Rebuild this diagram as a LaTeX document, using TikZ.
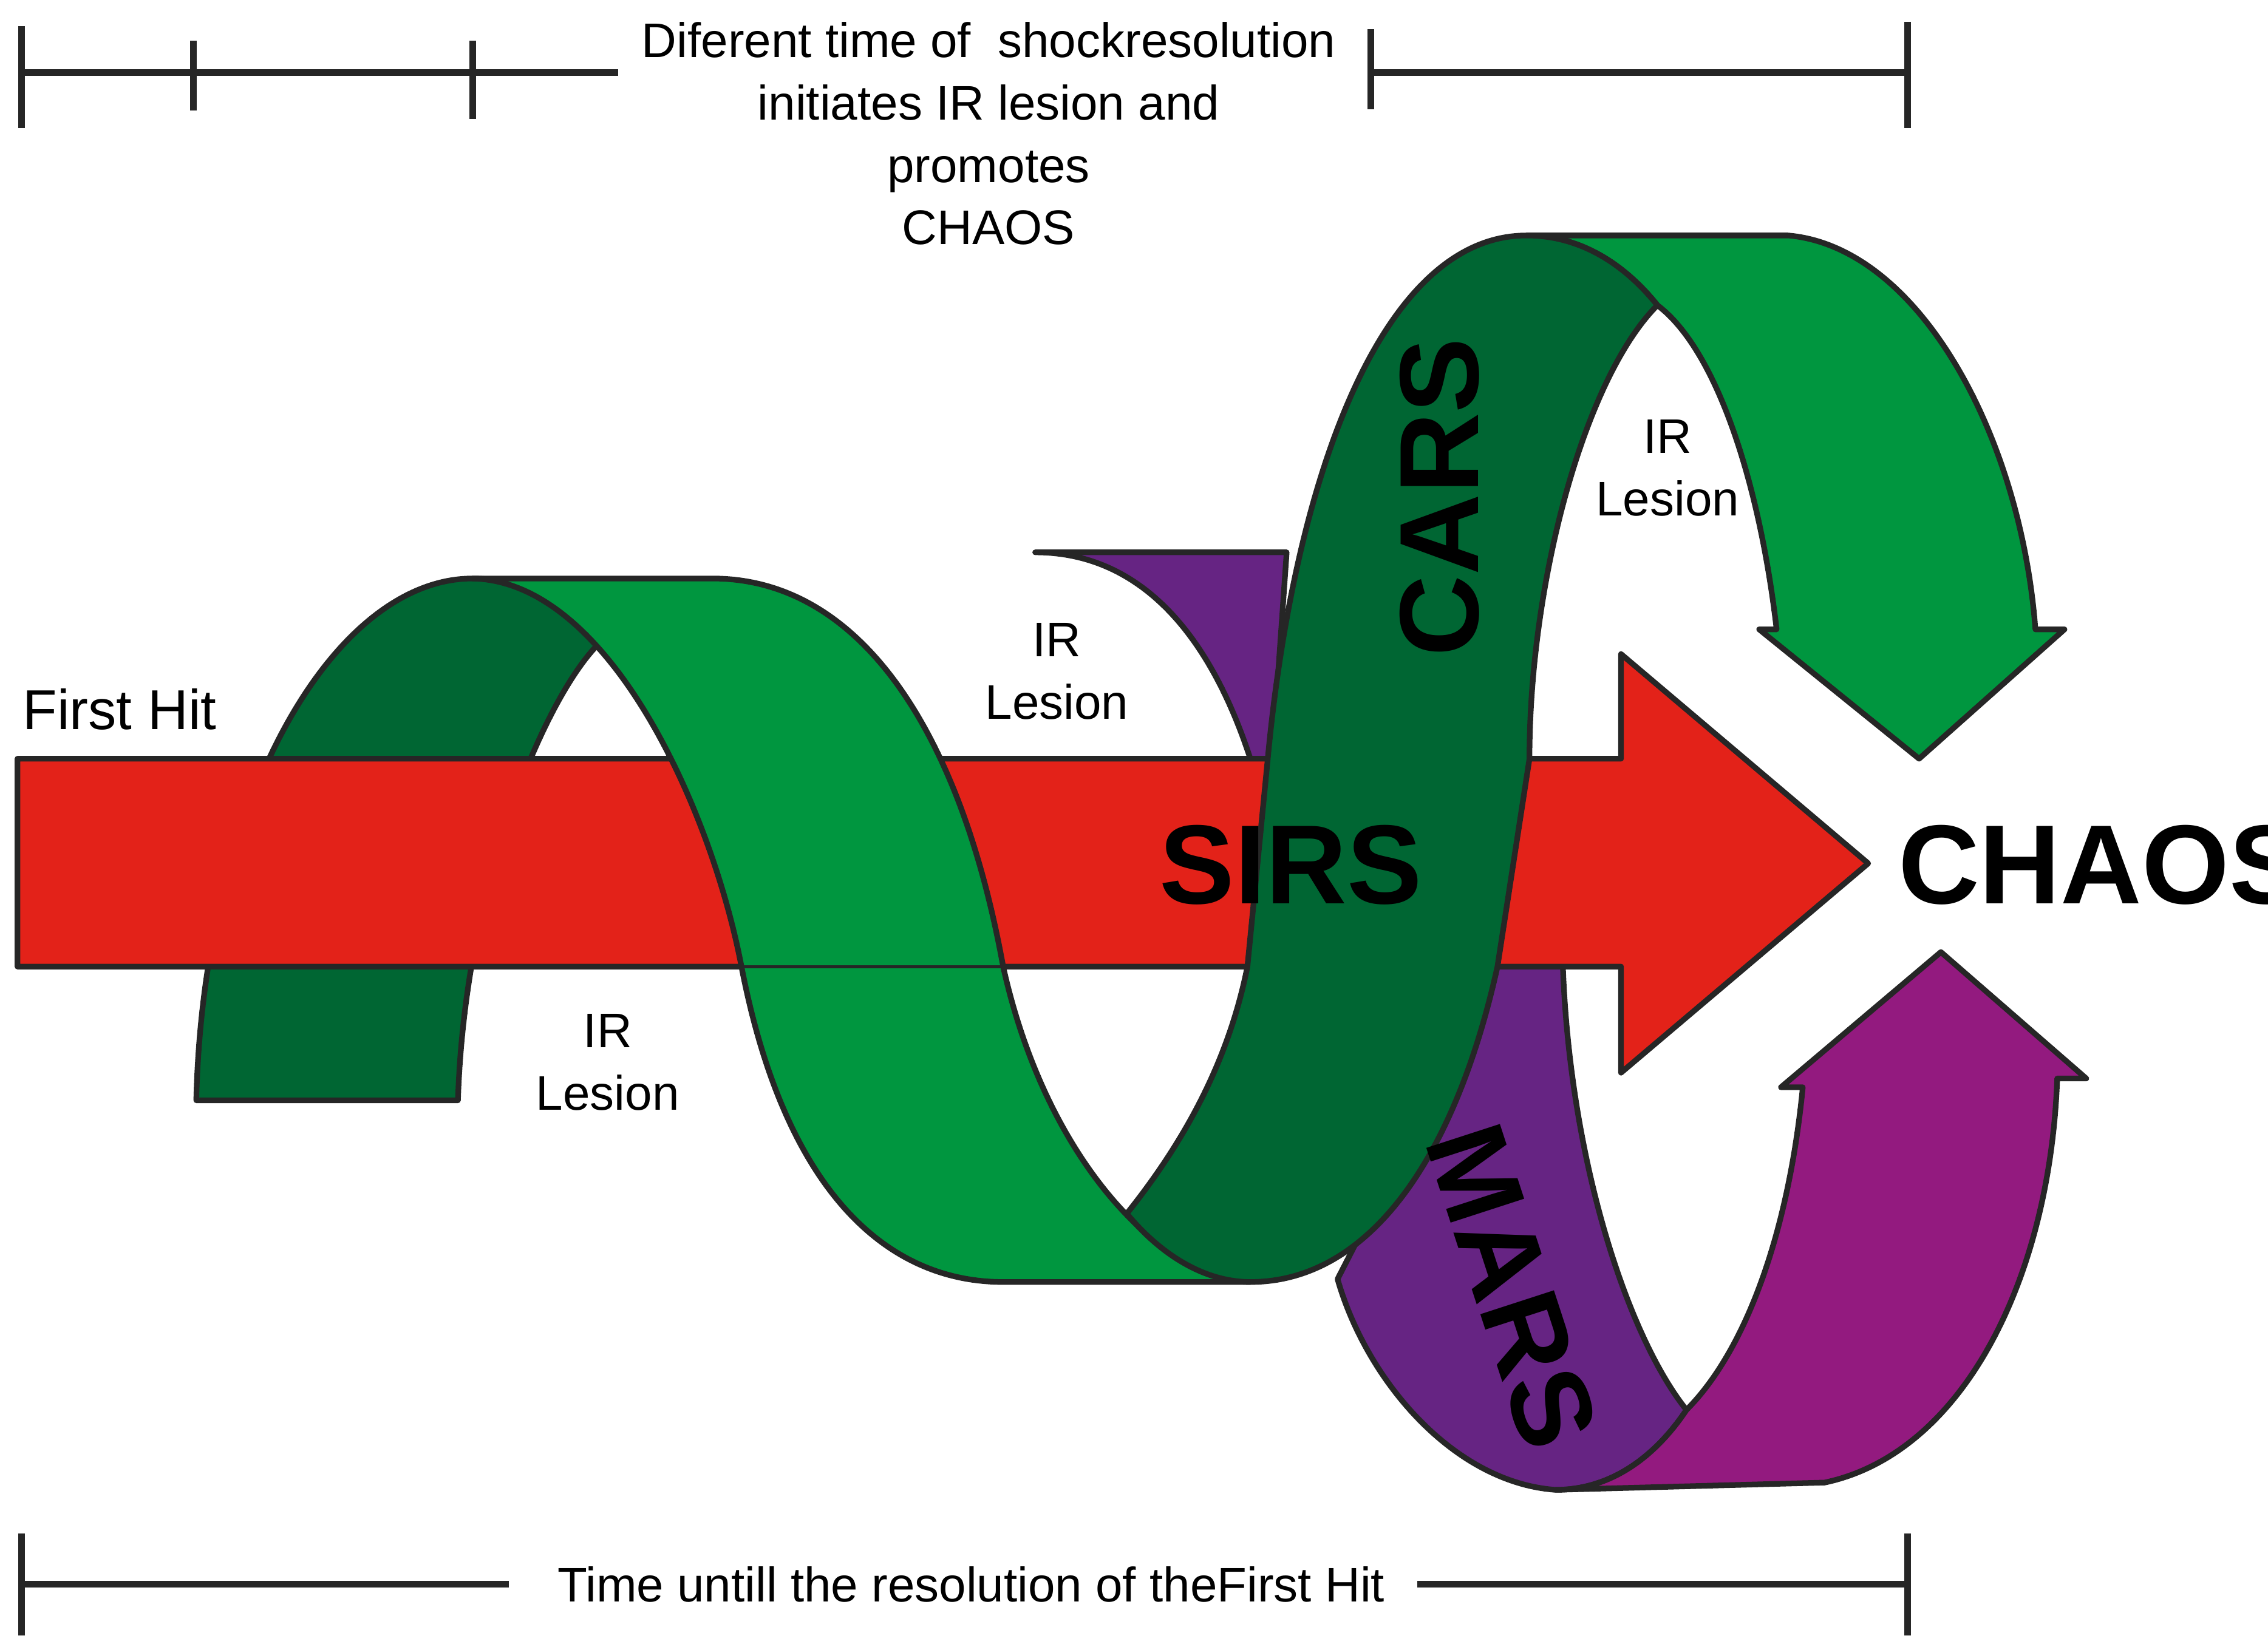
\documentclass[tikz,border=0pt]{standalone}
\usepackage{fontspec}
\setmainfont{Liberation Sans}
\definecolor{sirsred}{HTML}{E32219}
\definecolor{lightgreen}{HTML}{00963F}
\definecolor{darkgreen}{HTML}{006633}
\definecolor{marspurple}{HTML}{662483}
\definecolor{chaosmagenta}{HTML}{931A7F}
\tikzset{
  ribbon/.style = {draw = black!85, line width = 1.1pt, line join = round},
  bar/.style = {draw = black!85, line width = 1.3pt},
  label/.style = {align = center, font = \fontsize{9.5}{12.2}\selectfont, inner sep = 0pt},
  big/.style = {font = \fontsize{22}{24}\selectfont\bfseries, inner sep = 0pt}
}
\begin{document}
\begin{tikzpicture}[x = 0.01cm, y = -0.01cm]
	\useasboundingbox (0,0) rectangle (1560,1133);

	% ribbons behind the arrow
	\path[ribbon, fill = darkgreen] (135,757) .. controls (140,550) and (230,398) .. (325,398)
		.. controls (360,398) and (390,415) .. (415,440) .. controls (380,470) and (320,600) .. (315,757) -- cycle;
	\path[ribbon, fill = marspurple] (712,380) -- (885,380) -- (875,522) -- (860,522)
		.. controls (830,430) and (780,380) .. (712,380) -- cycle;
	\path[ribbon, fill = marspurple] (1030,665) -- (1075,665) .. controls (1080,800) and (1120,920) .. (1160,970)
		.. controls (1140,1000) and (1110,1025) .. (1070,1025) .. controls (1000,1020) and (940,950) .. (920,880) -- cycle;
	\path[ribbon, fill = chaosmagenta] (1070,1025) -- (1255,1020) .. controls (1350,1000) and (1410,880) .. (1415,742)
		-- (1435,742) -- (1335,655) -- (1225,748) -- (1240,748) .. controls (1230,850) and (1200,930) .. (1160,970)
		.. controls (1140,1000) and (1110,1025) .. (1070,1025) -- cycle;

	% main arrow
	\path[ribbon, fill = sirsred] (12,522) -- (1115,522) -- (1115,450) -- (1285,594) -- (1115,738) -- (1115,665) -- (12,665) -- cycle;

	% ribbons in front of the arrow
	\path[ribbon, fill = lightgreen] (325,398) .. controls (420,400) and (490,560) .. (510,665)
		.. controls (540,820) and (610,882) .. (690,882) -- (860,882) .. controls (800,880) and (720,800) .. (690,665)
		.. controls (660,500) and (590,398) .. (490,398) -- cycle;
	\draw[black!85, line width = 0.6pt] (510,665) -- (690,665);
	\path[ribbon, fill = lightgreen] (1050,162) -- (1230,162) .. controls (1320,170) and (1390,300) .. (1400,433)
		-- (1420,433) -- (1320,522) -- (1210,433) -- (1222,433) .. controls (1210,330) and (1180,240) .. (1140,210)
		.. controls (1120,185) and (1090,162) .. (1050,162) -- cycle;
	\path[ribbon, fill = darkgreen] (775,835) .. controls (815,785) and (845,730) .. (858,665) -- (872,522)
		.. controls (890,330) and (950,162) .. (1050,162) .. controls (1090,162) and (1120,185) .. (1140,210)
		.. controls (1090,260) and (1052,400) .. (1052,522) -- (1030,665) .. controls (1000,800) and (940,882) .. (860,882)
		.. controls (830,882) and (800,865) .. (775,835) -- cycle;

	% time bars
	\coordinate (tl) at (15,50);   \coordinate (tm) at (425,50);
	\coordinate (tr) at (943,50);  \coordinate (te) at (1312,50);
	\draw[bar] (tl) -- (tm);
	\draw[bar] (tr) -- (te);
	\draw[bar] (15,18) -- (15,88);
	\draw[bar] (133,28) -- (133,76);
	\draw[bar] (325,28) -- (325,82);
	\draw[bar] (943,20) -- (943,75);
	\draw[bar] (1312,15) -- (1312,88);
	\coordinate (bl) at (15,1090);  \coordinate (bm) at (350,1090);
	\coordinate (br) at (975,1090); \coordinate (be) at (1312,1090);
	\draw[bar] (bl) -- (bm);
	\draw[bar] (br) -- (be);
	\draw[bar] (15,1055) -- (15,1125);
	\draw[bar] (1312,1055) -- (1312,1125);

	% texts
	\node[label] (shock) at (680,92) {Diferent time of \ shockresolution\\initiates IR lesion and\\promotes\\CHAOS};
	\node[label] (total) at (668,1090) {Time untill the resolution of theFirst Hit};
	\node[label, font = \fontsize{11}{13}\selectfont, anchor = west] (hit) at (15,488) {First Hit};
	\node[label] (ir1) at (418,731) {IR\\Lesion};
	\node[label] (ir2) at (727,462) {IR\\Lesion};
	\node[label] (ir3) at (1147,322) {IR\\Lesion};
	\node[big] (sirs) at (888,595) {SIRS};
	\node[big, anchor = west] (chaos) at (1305,595) {CHAOS};
	\node[big, rotate = 90] (cars) at (990,342) {CARS};
	\node[big, rotate = -72] (mars) at (1040,885) {MARS};
\end{tikzpicture}
\end{document}
